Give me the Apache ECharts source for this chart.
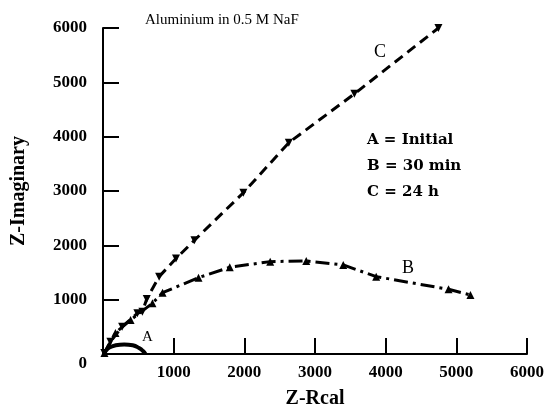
<!DOCTYPE html>
<html><head><meta charset="utf-8">
<script src="https://cdn.jsdelivr.net/npm/echarts@6/dist/echarts.min.js"></script>
<style>html,body{margin:0;padding:0;background:#fff}#c{width:551px;height:414px}</style>
</head><body><div id="c"></div>
<script>
const axisTicks = [0, 1000, 2000, 3000, 4000, 5000, 6000];
// Curve A = Initial (real, imaginary)
const seriesA = [[20,0],[40,60],[90,120],[180,160],[300,175],[420,160],[510,110],[570,50],[600,0]];
// Curve B = 30 min
const seriesB = [[20,20],[176,387],[390,626],[700,934],[843,1129],[1351,1405],[1794,1597],[2366,1700],[2876,1713],[3400,1639],[3866,1424],[4890,1191],[5200,1087]];
// Curve C = 24 h
const seriesC = [[19,18],[104,226],[271,503],[486,750],[557,779],[619,1013],[794,1424],[1033,1756],[1294,2094],[1986,2967],[2629,3889],[3557,4788],[4747,6000]];
const titleText = 'Aluminium in 0.5 M NaF';
const legendLines = ['A = Initial', 'B = 30 min', 'C = 24 h'];
const curveLabels = ['A', 'B', 'C'];
const FONT = '"Liberation Serif", "DejaVu Serif", serif';
const WFONT = '"DejaVu Serif", serif';

const chart = echarts.init(document.getElementById('c'), null, {renderer:'canvas'});
const axisCommon = {
  type:'value', min:axisTicks[0], max:axisTicks[axisTicks.length-1], interval:axisTicks[1]-axisTicks[0],
  axisLine:{show:true, lineStyle:{color:'#000', width:2}},
  axisTick:{show:true, inside:true, length:16, lineStyle:{color:'#000', width:2}},
  splitLine:{show:false},
  nameTextStyle:{fontFamily:FONT, fontSize:20, fontWeight:'bold', color:'#000'},
  axisLabel:{fontFamily:FONT, fontSize:17, fontWeight:'bold', color:'#000', formatter: v => String(v)}
};
chart.setOption({
  backgroundColor:'#fff',
  animation:false,
  grid:{left:103, right:24, top:28, bottom:60, containLabel:false},
  xAxis: Object.assign({}, axisCommon, {
    name:'Z-Rcal', nameLocation:'middle', nameGap:35,
    axisLabel:Object.assign({}, axisCommon.axisLabel, {margin:10, showMinLabel:false})
  }),
  yAxis: Object.assign({}, axisCommon, {
    name:'Z-Imaginary', nameLocation:'middle', nameGap:74,
    axisLabel:Object.assign({}, axisCommon.axisLabel, {margin:16,
      formatter: v => v === 0 ? '{z|0}' : String(v),
      rich:{z:{fontFamily:FONT, fontSize:17, fontWeight:'bold', color:'#000', padding:[20,0,0,0]}}})
  }),
  series:[
    {type:'line', data:seriesA, smooth:true, symbol:'none',
     lineStyle:{color:'#000', width:4}},
    {type:'line', data:seriesB, symbol:'triangle', symbolSize:8,
     itemStyle:{color:'#000'}, lineStyle:{color:'#000', width:3, type:[14,5,3,5]}},
    {type:'line', data:seriesC, symbol:'triangle', symbolRotate:180, symbolSize:8,
     itemStyle:{color:'#000'}, lineStyle:{color:'#000', width:3, type:[10,6]}}
  ],
  graphic:[
    {type:'text', left:145, top:13, style:{text:titleText, font:'15px '+FONT, fill:'#000'}},
    {type:'text', left:367, top:133, style:{text:legendLines[0], font:'bold 15px '+WFONT, fill:'#000'}},
    {type:'text', left:367, top:159, style:{text:legendLines[1], font:'bold 15px '+WFONT, fill:'#000'}},
    {type:'text', left:367, top:185, style:{text:legendLines[2], font:'bold 15px '+WFONT, fill:'#000'}},
    {type:'text', left:142, top:330, style:{text:curveLabels[0], font:'15px '+FONT, fill:'#000'}},
    {type:'text', left:402, top:259, style:{text:curveLabels[1], font:'18px '+FONT, fill:'#000'}},
    {type:'text', left:374, top:43, style:{text:curveLabels[2], font:'18px '+FONT, fill:'#000'}}
  ]
});
</script></body></html>
